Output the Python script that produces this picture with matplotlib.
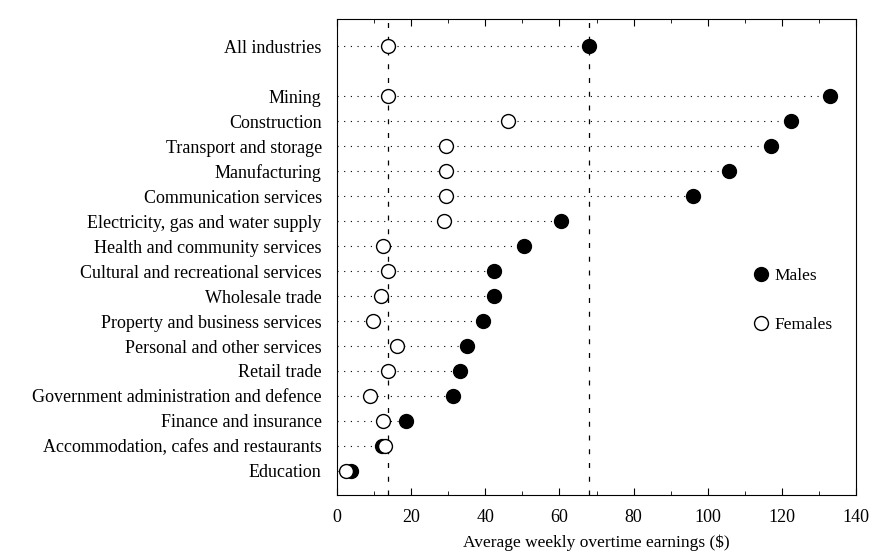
import numpy as np
import matplotlib.pyplot as plt

plt.rcParams['font.family'] = ['Liberation Serif', 'DejaVu Serif']

# Data
industries = ["Mining", "Construction", "Transport and storage", "Manufacturing",
              "Communication services", "Electricity, gas and water supply",
              "Health and community services", "Cultural and recreational services",
              "Wholesale trade", "Property and business services",
              "Personal and other services", "Retail trade",
              "Government administration and defence", "Finance and insurance",
              "Accommodation, cafes and restaurants", "Education"]
males = [133, 122.5, 117, 105.7, 96, 60.4, 50.4, 42.4, 42.4, 39.4, 35.1, 33.2, 31.3, 18.6, 12.1, 3.8]
females = [13.8, 46.1, 29.4, 29.4, 29.4, 28.9, 12.4, 13.8, 11.9, 9.7, 16.2, 13.8, 8.9, 12.4, 12.9, 2.4]
all_label = "All industries"
all_male = 68.0
all_female = 13.8

labels = [all_label] + industries
y = np.concatenate([[-2], np.arange(len(industries))])
m = np.concatenate([[all_male], males])
f = np.concatenate([[all_female], females])

fig = plt.figure(figsize=(8.77, 5.54), dpi=100)
ax = fig.add_axes([0.3843, 0.1065, 0.5918, 0.8592])

# dotted guide lines from zero to the larger value
ax.hlines(y, 0, np.maximum(m, f), colors='black', linestyles=(0, (1, 5)), linewidth=0.8, zorder=1)

# reference lines for the all-industries averages
ax.axvline(all_female, color='black', linestyle=(0, (4, 7)), linewidth=0.9, zorder=1)
ax.axvline(all_male, color='black', linestyle=(0, (4, 7)), linewidth=0.9, zorder=1)

ax.plot(m, y, 'o', color='black', markersize=10, label='Males', zorder=3)
ax.plot(f, y, 'o', markerfacecolor='white', markeredgecolor='black',
        markeredgewidth=1.0, markersize=10, label='Females', zorder=3)

ax.set_xlim(0, 140)
ax.set_ylim(15.96, -3.08)
ax.set_yticks(y)
ax.set_yticklabels(labels, fontsize=13)
ax.tick_params(axis='y', length=0, pad=11)
ax.set_xticks(np.arange(0, 141, 20))
ax.set_xticks(np.arange(0, 141, 10), minor=True)
ax.tick_params(axis='x', which='both', top=True, direction='in', labelsize=13, pad=10)
ax.tick_params(axis='x', which='major', length=5)
ax.tick_params(axis='x', which='minor', length=3)
ax.set_xlabel("Average weekly overtime earnings ($)", fontsize=12.5, labelpad=6)

ax.legend(loc='upper left', bbox_to_anchor=(0.77, 0.51), frameon=False,
          fontsize=12.5, handletextpad=0.3, labelspacing=1.9, handlelength=1.0)

fig.savefig("out.png", dpi=100)
